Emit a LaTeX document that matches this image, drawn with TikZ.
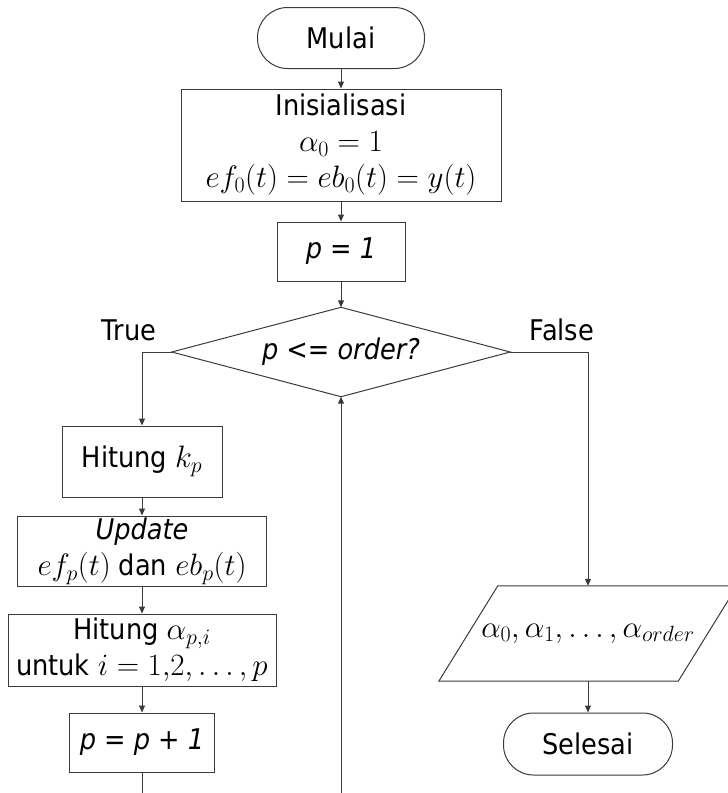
\RequirePackage{fix-cm}
\documentclass[tikz,border=0pt]{standalone}
\usepackage{fontspec}
\setmainfont{DejaVu Sans Condensed}
\DeclareMathSizes{28.5}{31}{22}{17}
\usetikzlibrary{shapes.geometric,arrows.meta,calc}
\definecolor{linec}{HTML}{3A3A3A}
\begin{document}
\begin{tikzpicture}[x=1pt,y=-1pt,
  every node/.style={font=\fontsize{28.5}{36}\selectfont, inner sep=0pt, text=black},
  box/.style={draw=linec, line width=1pt, rectangle, align=center},
  term/.style={draw=linec, line width=1pt, rectangle, rounded corners=30pt, align=center},
  conn/.style={draw=linec, line width=1pt, -{Triangle[length=7pt,width=6pt]}},
  plain/.style={draw=linec, line width=1pt}]
\useasboundingbox (0,0) rectangle (728,793);

\node[term, minimum width=167pt, minimum height=61pt] (mulai) at (341,38) {Mulai};
\node[box, minimum width=320pt, minimum height=112pt] (init) at (341,145)
  {Inisialisasi\\ $\alpha_0 = 1$\\ $ef_0(t) = eb_0(t) = y(t)$};
\node[box, minimum width=128pt, minimum height=59pt] (p1) at (341,251.5) {\itshape p = 1};
\node[minimum width=338pt, minimum height=89pt] (dec) at (341,352) {\itshape p <= order?};
\draw[plain] (dec.west) -- (dec.north) -- (dec.east) -- (dec.south) -- cycle;

\node (true) at (129,330) {True};
\node (false) at (562,330) {False};

\node[box, minimum width=160pt, minimum height=71pt] (kp) at (142,461.5) {Hitung $k_p$};
\node[box, minimum width=249pt, minimum height=70pt] (upd) at (142,551)
  {\textit{Update}\\ $ef_p(t)$ dan $eb_p(t)$};
\node[box, minimum width=268pt, minimum height=72pt] (alp) at (142,650)
  {Hitung $\alpha_{p,i}$\\ untuk $i = 1{,}2,\dots,p$};
\node[box, minimum width=145pt, minimum height=59pt] (pp1) at (142,742.5) {\itshape p = p + 1};

\node[minimum width=239pt, minimum height=95pt] (out) at (588,633.5)
  {$\alpha_0, \alpha_1, \dots, \alpha_{order}$};
\draw[plain] ([xshift=-29.5pt]out.south west) -- ([xshift=29.5pt]out.north west)
  -- ([xshift=29.5pt]out.north east) -- ([xshift=-29.5pt]out.south east) -- cycle;
\node[term, minimum width=169pt, minimum height=62pt] (sel) at (588,744) {Selesai};

\coordinate (endL) at (142,793);
\coordinate (loopS) at (341,793);

\draw[conn] (mulai) -- (init);
\draw[conn] (init) -- (p1);
\draw[conn] (p1) -- (dec.north);
\draw[conn] (dec.west) -| (kp.north);
\draw[conn] (dec.east) -| (out.north);
\draw[conn] (kp) -- (upd);
\draw[conn] (upd) -- (alp);
\draw[conn] (alp) -- (pp1);
\draw[plain] (pp1.south) -- (endL);
\draw[conn] (loopS) -- (dec.south);
\draw[conn] (out.south) -- (sel.north);
\end{tikzpicture}
\end{document}
